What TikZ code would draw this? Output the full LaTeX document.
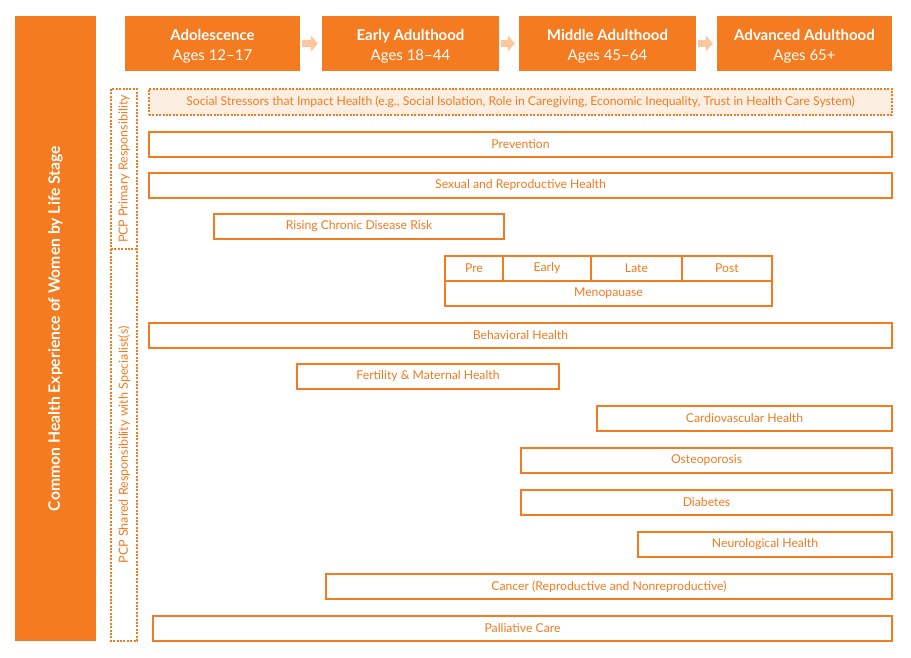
\documentclass[tikz,border=0pt]{standalone}
\usepackage{fontspec}
\setmainfont{Lato}
\usetikzlibrary{arrows.meta}
\definecolor{org}{HTML}{F47B20}
\definecolor{lorg}{HTML}{FDC79E}
\definecolor{sfill}{HTML}{FDEEE2}
\tikzset{
  bar/.style={draw=org, line width=2pt, fill=white, text=org, inner sep=0pt, minimum height=25pt, font=\fontsize{12.2}{14}\selectfont},
  stage/.style={fill=org, inner sep=0pt, minimum height=55pt},
  stagetext/.style={text=white, inner sep=0pt, align=center, font=\bfseries\fontsize{15}{20}\selectfont},
  dotline/.style={draw=org, line width=2pt, dash pattern=on 2pt off 1.4pt},
  stagearrow/.style={draw=lorg, line width=7pt, -{Triangle[length=7pt,width=16pt]}, shorten <=2pt, shorten >=4pt},
  vlabel/.style={text=org, rotate=90, inner sep=0pt, font=\fontsize{12.5}{14}\selectfont}
}
\begin{document}
\begin{tikzpicture}[x=1pt,y=-1pt]
\useasboundingbox (0,0) rectangle (911,658);
% left title box
\node[fill=org, minimum width=81pt, minimum height=625pt, inner sep=0pt] (title) at (55.5,328.5) {};
\node[rotate=90, text=white, font=\bfseries\fontsize{15.7}{18}\selectfont] (titletext) at (title.center) {Common Health Experience of Women by Life Stage};
% stage boxes
\node[stage, minimum width=175pt] (s1) at (212.5,43.5) {};
\node[stage, minimum width=177pt] (s2) at (410.5,43.5) {};
\node[stage, minimum width=177pt] (s3) at (607.5,43.5) {};
\node[stage, minimum width=175pt] (s4) at (804.5,43.5) {};
\node[stagetext] (s1t) at ([yshift=-2.5pt]s1.center) {Adolescence\\\mdseries Ages 12--17};
\node[stagetext] (s2t) at ([yshift=-2.5pt]s2.center) {Early Adulthood\\\mdseries Ages 18--44};
\node[stagetext] (s3t) at ([yshift=-2.5pt]s3.center) {Middle Adulthood\\\mdseries Ages 45--64};
\node[stagetext] (s4t) at ([yshift=-2.5pt]s4.center) {Advanced Adulthood\\\mdseries Ages 65+};
\draw[stagearrow] (s1.east) -- (s2.west);
\draw[stagearrow] (s2.east) -- (s3.west);
\draw[stagearrow] (s3.east) -- (s4.west);
% dotted responsibility column
\coordinate (ctl) at (111,89);
\coordinate (cbr) at (137,641);
\coordinate (cml) at (111,249);
\coordinate (cmr) at (137,249);
\draw[dotline] (ctl) rectangle (cbr);
\draw[dotline] (cml) -- (cmr);
\node[vlabel] (prim) at (124,169) {PCP Primary Responsibility};
\node[vlabel] (shared) at (124,445) {PCP Shared Responsibility with Specialist(s)};
% social stressors
\node[dotline, fill=sfill, text=org, minimum width=743pt, minimum height=26pt, inner sep=0pt, font=\fontsize{12.2}{14}\selectfont] (social) at (520.5,102) {Social Stressors that Impact Health (e.g., Social Isolation, Role in Caregiving, Economic Inequality, Trust in Health Care System)};
% bars
\node[bar, minimum width=743pt] (prev) at (520.5,144.5) {Prevention};
\node[bar, minimum width=743pt] (sex) at (520.5,185.5) {Sexual and Reproductive Health};
\node[bar, minimum width=290pt] (rise) at (359,226.5) {Rising Chronic Disease Risk};
\node[bar, minimum width=58pt] (pre) at (474,268.2) {Pre};
\node[bar, minimum width=88pt] (early) at (547,268.2) {Early};
\node[bar, minimum width=91pt] (late) at (636.5,268.2) {Late};
\node[bar, minimum width=90pt] (post) at (727,268.2) {Post};
\node[bar, minimum width=327pt] (meno) at (608.5,293.2) {Menopauase};
\node[bar, minimum width=743pt] (beh) at (520.5,335.5) {Behavioral Health};
\node[bar, minimum width=262pt] (fert) at (428,376.5) {Fertility \& Maternal Health};
\node[bar, minimum width=295pt] (cardio) at (744.5,418.5) {Cardiovascular Health};
\node[bar, minimum width=371pt] (osteo) at (706.5,460.5) {Osteoporosis};
\node[bar, minimum width=371pt] (diab) at (706.5,502.5) {Diabetes};
\node[bar, minimum width=254pt] (neuro) at (765,544.5) {Neurological Health};
\node[bar, minimum width=566pt] (cancer) at (609,586.5) {Cancer (Reproductive and Nonreproductive)};
\node[bar, minimum width=739pt] (pall) at (522.5,628.5) {Palliative Care};
\end{tikzpicture}
\end{document}
